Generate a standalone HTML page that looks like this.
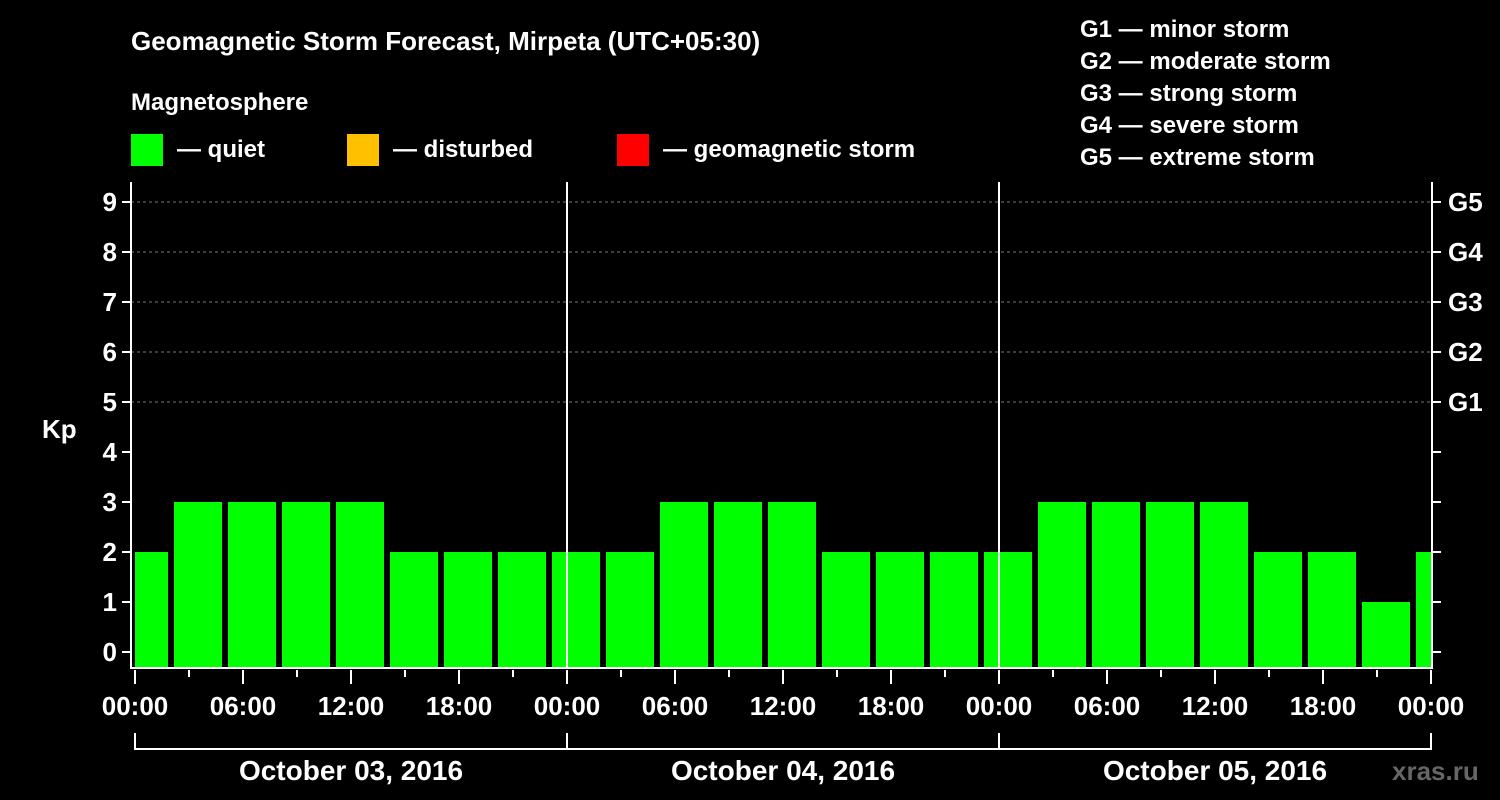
<!DOCTYPE html>
<html><head><meta charset="utf-8"><style>
html,body{margin:0;padding:0;background:#000;}
svg{display:block;font-family:"Liberation Sans",Arial,sans-serif;font-weight:bold;}
</style></head><body>
<svg id="chart" width="1500" height="800" viewBox="0 0 1500 800">
<rect width="1500" height="800" fill="#000"/>
<text x="131" y="50" fill="#fff" font-size="26">Geomagnetic Storm Forecast, Mirpeta (UTC+05:30)</text>
<text x="131" y="110" fill="#fff" font-size="24">Magnetosphere</text>
<g><rect x="131" y="134" width="32" height="32" fill="#00ff00"/><text x="177" y="157" fill="#fff" font-size="24">— quiet</text></g>
<g><rect x="347" y="134" width="32" height="32" fill="#ffc000"/><text x="393" y="157" fill="#fff" font-size="24">— disturbed</text></g>
<g><rect x="617" y="134" width="32" height="32" fill="#ff0000"/><text x="663" y="157" fill="#fff" font-size="24">— geomagnetic storm</text></g>
<g fill="#fff" font-size="24">
<text x="1080" y="37">G1 — minor storm</text>
<text x="1080" y="69">G2 — moderate storm</text>
<text x="1080" y="101">G3 — strong storm</text>
<text x="1080" y="133">G4 — severe storm</text>
<text x="1080" y="165">G5 — extreme storm</text>
</g>
<text x="42" y="438" fill="#fff" font-size="26">Kp</text>
<text x="1392" y="780" fill="#666" font-size="26">xras.ru</text>
<g id="grid"></g><g id="bars"></g><g id="axes"></g>
</svg>
<script>
const kpValues=[2,3,3,3,3,2,2,2,2,2,3,3,3,2,2,2,2,3,3,3,3,2,2,1,2];
const yTicks=[0,1,2,3,4,5,6,7,8,9];
const gLabels=["","","","","","G1","G2","G3","G4","G5"];
const xTickLabels=["00:00","06:00","12:00","18:00","00:00","06:00","12:00","18:00","00:00","06:00","12:00","18:00","00:00"];
const dateLabels=["October 03, 2016","October 04, 2016","October 05, 2016"];
const X0=135,PXH=18,L=131,R=1432,TOP=182,BOT=668;
const xH=h=>X0+h*PXH;
const yK=k=>652-k*50;
const NS="http://www.w3.org/2000/svg";
function mk(t,a,p,txt){const e=document.createElementNS(NS,t);for(const k in a)e.setAttribute(k,a[k]);if(txt!=null)e.textContent=txt;p.appendChild(e);return e;}
const grid=document.getElementById('grid'),bars=document.getElementById('bars'),axes=document.getElementById('axes');
yTicks.forEach(k=>{if(k>=5){const l=mk('line',{x1:L,x2:R,y1:yK(k),y2:yK(k),stroke:'#777','stroke-dasharray':'3,3','stroke-width':1},grid);

}});
const clip=mk('clipPath',{id:'pc'},document.getElementById('chart'));mk('rect',{x:L+4,y:TOP,width:R-L-4,height:BOT-TOP},clip);
bars.setAttribute('clip-path','url(#pc)');
kpValues.forEach((v,i)=>{const c=xH(0.5+3*i);const col=v>=5?'#ff0000':(v>=4?'#ffc000':'#00ff00');
const r=mk('rect',{x:c-24,y:yK(v),width:48,height:BOT-yK(v),fill:col},bars);

});
[24,48].forEach(h=>{const l=mk('line',{x1:xH(h),x2:xH(h),y1:TOP,y2:BOT,stroke:'#fff','stroke-width':2},axes);

});
mk('path',{d:`M${L} ${TOP}V${BOT}H${R}V${TOP}`,stroke:'#fff','stroke-width':2,fill:'none'},axes);
yTicks.forEach((k,i)=>{mk('line',{x1:L-9,x2:L,y1:yK(k),y2:yK(k),stroke:'#fff','stroke-width':2},axes);
mk('line',{x1:R,x2:R+9,y1:yK(k),y2:yK(k),stroke:'#fff','stroke-width':2},axes);
const t=mk('text',{x:L-14,y:yK(k)+9,fill:'#fff','font-size':26,'text-anchor':'end'},axes,k);


if(gLabels[i]){const g=mk('text',{x:1448,y:yK(k)+9,fill:'#fff','font-size':26},axes,gLabels[i]);

}});
for(let h=0;h<=72;h+=3){const maj=h%6===0;mk('line',{x1:xH(h),x2:xH(h),y1:BOT+2,y2:BOT+(maj?16:9),stroke:'#fff','stroke-width':2},axes);}
xTickLabels.forEach((s,i)=>{const t=mk('text',{x:xH(i*6),y:715,fill:'#fff','font-size':26,'text-anchor':'middle'},axes,s);

});
mk('path',{d:`M${xH(0)} 733V749H${xH(72)}V733M${xH(24)} 733V749M${xH(48)} 733V749`,stroke:'#fff','stroke-width':2,fill:'none'},axes);
dateLabels.forEach((s,i)=>{const t=mk('text',{x:xH(12+24*i),y:780,fill:'#fff','font-size':28,'text-anchor':'middle'},axes,s);

});
</script>
</body></html>
